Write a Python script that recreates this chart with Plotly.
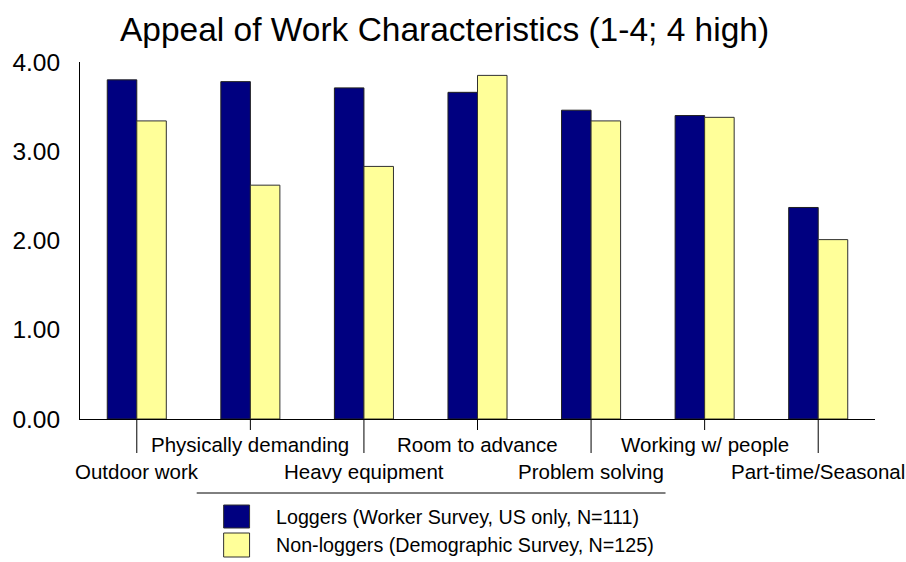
import plotly.graph_objects as go

# Survey results: mean appeal score (1-4 scale, 4 = high)
categories = ["Outdoor work", "Physically demanding", "Heavy equipment",
              "Room to advance", "Problem solving", "Working w/ people",
              "Part-time/Seasonal"]
loggers = [3.80, 3.78, 3.71, 3.66, 3.46, 3.40, 2.37]
non_loggers = [3.34, 2.62, 2.83, 3.85, 3.34, 3.38, 2.01]
series_names = ["Loggers (Worker Survey, US only, N=111)",
                "Non-loggers (Demographic Survey, N=125)"]
y_ticks = [0, 1, 2, 3, 4]
y_tick_labels = ["0.00", "1.00", "2.00", "3.00", "4.00"]

FONT = "Arial, Liberation Sans, sans-serif"
NAVY = "#000080"
PALE_YELLOW = "#FFFF99"
W, H = 906, 562
M_L, M_R, M_T, M_B = 78, 31, 62, 143
plot_h = H - M_T - M_B

x_idx = list(range(len(categories)))

fig = go.Figure()
fig.add_trace(go.Bar(x=x_idx, y=loggers, name=series_names[0],
                     marker=dict(color=NAVY, line=dict(color="#202020", width=1))))
fig.add_trace(go.Bar(x=x_idx, y=non_loggers, name=series_names[1],
                     marker=dict(color=PALE_YELLOW, line=dict(color="#303030", width=1))))

shapes = []
annotations = []

# staggered category labels with long/short tick lines
for i, cat in enumerate(categories):
    lower = (i % 2 == 0)
    tick_px = 34 if lower else 11
    shapes.append(dict(type="line", xref="x", yref="paper",
                       x0=i, x1=i, y0=0, y1=-tick_px / plot_h,
                       line=dict(color="#000000", width=1)))
    label_y = 471 if lower else 444
    annotations.append(dict(text=cat, xref="x", yref="paper", x=i,
                            y=-(label_y - (H - M_B)) / plot_h,
                            xanchor="center", yanchor="middle", showarrow=False,
                            font=dict(family=FONT, size=20.5, color="#000000")))

# legend drawn in pixel-based paper coordinates
def px_x(px):
    return (px - M_L) / (W - M_L - M_R)

def px_y(py):
    return (H - M_B - py) / plot_h

shapes.append(dict(type="line", xref="paper", yref="paper",
                   x0=px_x(195), x1=px_x(665), y0=px_y(493), y1=px_y(493),
                   line=dict(color="#000000", width=1)))
legend_rows = [(NAVY, 505, 528, 517), (PALE_YELLOW, 533, 557, 545)]
for (color, top, bot, mid), name in zip(legend_rows, series_names):
    shapes.append(dict(type="rect", xref="paper", yref="paper",
                       x0=px_x(222), x1=px_x(248), y0=px_y(bot), y1=px_y(top),
                       fillcolor=color, line=dict(color="#303030", width=1)))
    annotations.append(dict(text=name, xref="paper", yref="paper",
                            x=px_x(272), y=px_y(mid), xanchor="left", yanchor="middle",
                            showarrow=False,
                            font=dict(family=FONT, size=19.7, color="#000000")))

fig.update_layout(
    width=W, height=H,
    margin=dict(l=M_L, r=M_R, t=M_T, b=M_B),
    paper_bgcolor="white", plot_bgcolor="white",
    barmode="group", bargap=0.48, bargroupgap=0,
    showlegend=False,
    title=dict(text="Appeal of Work Characteristics (1-4; 4 high)",
               x=444.5 / W, xanchor="center", xref="container",
               y=1 - 29 / H, yanchor="middle", yref="container",
               font=dict(family=FONT, size=33.5, color="#000000")),
    xaxis=dict(range=[-0.5, 6.5], showticklabels=False, ticks="",
               showgrid=False, zeroline=False, showline=True,
               linecolor="#000000", linewidth=1, fixedrange=True),
    yaxis=dict(range=[0, 4], tickvals=y_ticks, ticktext=y_tick_labels,
               ticks="outside", ticklen=14, tickcolor="rgba(0,0,0,0)",
               tickfont=dict(family=FONT, size=24.5, color="#000000"),
               showgrid=False, zeroline=False, showline=True,
               linecolor="#000000", linewidth=1, fixedrange=True),
    shapes=shapes, annotations=annotations,
)

fig.write_html("out.html")
